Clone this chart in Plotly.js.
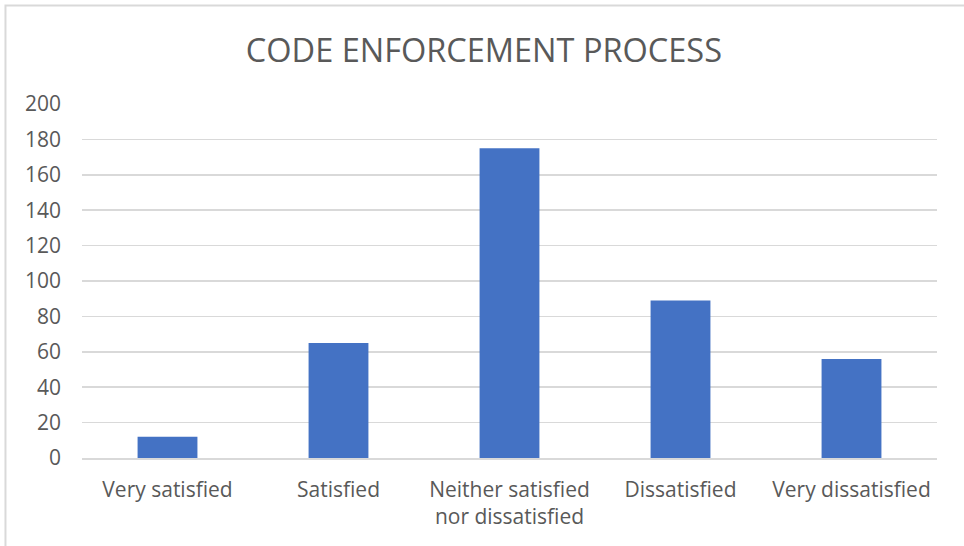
<!DOCTYPE html>
<html>
<head>
<meta charset="utf-8">
<script src="https://cdn.plot.ly/plotly-3.0.1.min.js"></script>
<style>
  html, body { margin: 0; padding: 0; background: #fff; }
  #chart { width: 964px; height: 546px; }
</style>
</head>
<body>
<div id="chart"></div>
<script>
const categories = ["Very satisfied", "Satisfied", "Neither satisfied<br>nor dissatisfied", "Dissatisfied", "Very dissatisfied"];
const values = [12, 65, 175, 89, 56];
const tickValues = [0, 20, 40, 60, 80, 100, 120, 140, 160, 180, 200];
const chartTitle = "CODE ENFORCEMENT PROCESS";

const trace = {
  type: "bar",
  x: categories,
  y: values,
  marker: { color: "#4472C4", line: { color: "#4472C4", width: 0 } },
  hoverinfo: "x+y"
};

const layout = {
  width: 964,
  height: 546,
  margin: { l: 82, r: 27, t: 104, b: 88 },
  paper_bgcolor: "#ffffff",
  plot_bgcolor: "#ffffff",
  font: { family: "Open Sans, Liberation Sans, sans-serif", color: "#595959", size: 21 },
  title: {
    text: chartTitle,
    font: { size: 32.5, color: "#595959", family: "Open Sans, Liberation Sans, sans-serif" },
    x: 0.502, xanchor: "center",
    y: 0.908, yanchor: "middle"
  },
  bargap: 0.65,
  showlegend: false,
  xaxis: {
    type: "category",
    showgrid: false,
    zeroline: false,
    showline: true,
    linecolor: "#D9D9D9",
    linewidth: 1.5,
    ticks: "",
    ticklabelstandoff: 12,
    tickfont: { size: 21, color: "#595959" }
  },
  yaxis: {
    range: [0, 200],
    tickvals: tickValues,
    ticktext: tickValues.map(String),
    showgrid: true,
    gridcolor: "#D9D9D9",
    gridwidth: 1.5,
    zeroline: false,
    showline: false,
    ticks: "",
    ticklabelstandoff: 20,
    tickfont: { size: 21, color: "#595959" }
  },
  shapes: [{
    type: "rect", xref: "paper", yref: "paper",
    x0: -0.0895, x1: 1.2, y0: -0.5, y1: 1.278,
    line: { color: "#D9D9D9", width: 2 }, fillcolor: "rgba(0,0,0,0)", layer: "below"
  }]
};

Plotly.newPlot("chart", [trace], layout, { displayModeBar: false, staticPlot: true });
</script>
</body>
</html>
